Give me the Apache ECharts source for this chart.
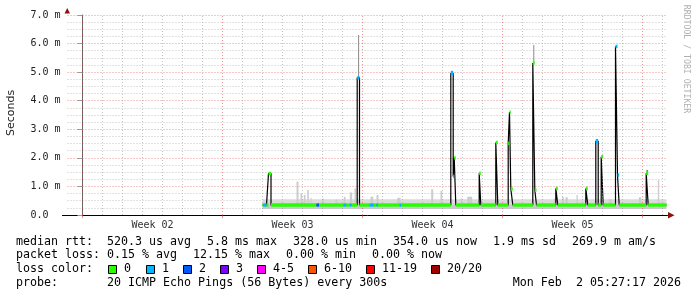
<!DOCTYPE html>
<html><head><meta charset="utf-8">
<script src="https://cdn.jsdelivr.net/npm/echarts@6/dist/echarts.min.js"></script>
<style>html,body{margin:0;padding:0;background:#fff}#c{width:697px;height:297px}</style>
</head><body><div id="c"></div>
<script>
// ---- axis data (x in days since start of Week 02, y in ms) ----
const weekStarts = [0, 7, 14, 21, 28];
const weekLabelPos = [3.5, 10.5, 17.5, 24.5];
const weekLabels = ['Week 02', 'Week 03', 'Week 04', 'Week 05'];
const dayLines = [1,2,3,4,5,6,8,9,10,11,12,13,15,16,17,18,19,20,22,23,24,25,26,27,29];

// ---- median rtt (ms): segment boundaries, value per segment, loss bucket per segment ----
const medTimes = [9.0, 9.05, 9.2, 9.3, 9.425, 11.7, 11.825, 13.065, 13.185, 13.365, 13.45, 13.735, 13.85,
  14.365, 14.565, 14.7, 14.775, 15.865, 15.935, 18.415, 18.535, 18.585, 18.665, 19.835, 19.915, 20.665,
  20.765, 21.285, 21.35, 21.415, 21.515, 22.515, 22.615, 22.7, 23.665, 23.765, 25.165, 25.265, 25.665,
  25.785, 25.935, 26.035, 26.65, 26.75, 26.835, 28.185, 28.285, 29.2];
const medValues = [0.35, 0.35, 0.35, 1.45, 0.35, 0.35, 0.35, 0.35, 0.35, 0.35, 0.35, 4.8, 0.35,
  0.35, 0.35, 0.35, 0.35, 0.35, 0.35, 4.96, 1.35, 2.0, 0.35, 1.46, 0.35, 2.54,
  0.35, 2.5, 3.6, 0.91, 0.35, 5.32, 0.87, 0.35, 0.93, 0.35, 0.93, 0.35, 2.58,
  0.35, 2.04, 0.35, 5.9, 1.4, 0.35, 1.46, 0.35];
const medLoss = [0,1,0,0,0,2,0,1,0,1,0,1,0,1,0,1,0,1,0,1,1,0,
  0,0,0,0,0,0,0,0,0,0,0,0,0,0,0,0,
  1,0,0,0,1,1,0,0,0];

// ---- smoke (ms) ----
const bandStart = [9.0], bandEnd = [29.2], bandLo = [0.21], bandMid = [0.35], bandHi = [0.55];
const smokeT0 = [10.7, 10.9, 11.065, 11.235, 11.4, 11.985, 12.65, 13.065, 13.365, 13.6, 14.4, 14.7, 15.735,
  17.435, 17.9, 18.9, 19.235, 23.565, 23.985, 24.15, 24.7, 26.315, 27.815, 28.765];
const smokeT1 = [10.8, 10.985, 11.15, 11.315, 11.45, 12.065, 12.735, 13.15, 13.485, 13.685, 14.535, 14.8, 15.9,
  17.535, 17.985, 18.985, 19.485, 23.65, 24.065, 24.265, 24.765, 26.485, 27.935, 28.835];
const smokeHi = [1.17, 0.76, 0.7, 0.875, 0.6, 0.58, 0.55, 0.64, 0.79, 0.93, 0.64, 0.7, 0.6,
  0.9, 0.85, 0.58, 0.64, 0.57, 0.64, 0.62, 0.7, 0.55, 0.62, 1.22];
const tallT0 = [13.78, 18.42, 22.54, 25.67, 28.19];
const tallT1 = [13.83, 18.53, 22.59, 25.78, 28.28];
const tallLo = [4.8, 4.96, 5.32, 2.58, 1.46];
const tallHi = [6.3, 5.05, 5.95, 2.66, 1.58];

// ---- legend ----
const lossColors = ['#26ff00', '#00b8ff', '#0059ff', '#7e00ff', '#ff00ff', '#ff5500', '#ff0000', '#a10000'];
const lossLabels = ['0', '1', '2', '3', '4-5', '6-10', '11-19', '20/20'];
const rttStats = ['520.3 us avg', '5.8 ms max', '328.0 us min', '354.0 us now', '1.9 ms sd', '269.9 m am/s'];
const lossStats = ['0.15 % avg', '12.15 % max', '0.00 % min', '0.00 % now'];
const probeText = '20 ICMP Echo Pings (56 Bytes) every 300s';
const dateText = 'Mon Feb  2 05:27:17 2026';

// ---- layout ----
const MONO = '"DejaVu Sans Mono", monospace';
const LF = 11.65;
const rttX = [107, 207, 293, 393, 493, 572];
const lossX = [107, 193, 286, 372];
const boxX = [108, 146, 183, 220, 257, 308, 366, 431];
const rowY = [241.5, 255, 269, 282.8];
const MAJ = 'rgba(220,60,60,0.55)';
const MIN = 'rgba(150,150,150,0.55)';

const segs = medValues.map((v, i) => [medTimes[i], medTimes[i + 1], v, medLoss[i]]);
const blackLine = [];
segs.forEach(s => { blackLine.push([s[0], s[2]]); blackLine.push([s[1], s[2]]); });

const smokeData = [];
bandStart.forEach((t, i) => {
  smokeData.push([t, bandEnd[i], bandMid[i], bandHi[i], 0]);
  smokeData.push([t, bandEnd[i], bandLo[i], bandMid[i], 1]);
});
smokeT0.forEach((t, i) => smokeData.push([t, smokeT1[i], bandMid[0], smokeHi[i], 2]));
tallT0.forEach((t, i) => smokeData.push([t, tallT1[i], tallLo[i], tallHi[i], 3]));
const smokeFill = ['#dadada', '#cdc4d4', '#cccccc', '#8a8a8a'];

const graphic = [];
function txt(x, y, s, extra) {
  graphic.push(Object.assign({ type: 'text', x: x, y: y, silent: true,
    style: Object.assign({ text: s, font: LF + 'px ' + MONO, fill: '#000', verticalAlign: 'middle', align: 'left' }, extra || {}) }));
}
txt(16, rowY[0], 'median rtt:');
rttStats.forEach((s, i) => txt(rttX[i], rowY[0], s));
txt(16, rowY[1], 'packet loss:');
lossStats.forEach((s, i) => txt(lossX[i], rowY[1], s));
txt(16, rowY[2], 'loss color:');
lossLabels.forEach((s, i) => {
  graphic.push({ type: 'rect', silent: true, shape: { x: boxX[i] + 0.5, y: 265.5, width: 8, height: 8 },
    style: { fill: lossColors[i], stroke: '#000', lineWidth: 1 } });
  txt(boxX[i] + 16, rowY[2], s);
});
txt(16, rowY[3], 'probe:');
txt(107, rowY[3], probeText);
txt(681, rowY[3], dateText, { align: 'right' });
// axis title & watermark
graphic.push({ type: 'text', x: 11, y: 113, rotation: Math.PI / 2, silent: true,
  style: { text: 'Seconds', font: '11px "DejaVu Sans", sans-serif', fill: '#222', align: 'center', verticalAlign: 'middle' } });
graphic.push({ type: 'text', x: 686, y: 59, rotation: -Math.PI / 2, silent: true,
  style: { text: 'RRDTOOL / TOBI OETIKER', font: '8.2px ' + MONO, fill: '#b0b0b0', align: 'center', verticalAlign: 'middle' } });
// arrows and left stub of x axis
graphic.push({ type: 'line', silent: true, shape: { x1: 62, y1: 215.5, x2: 68, y2: 215.5 }, style: { stroke: '#000', lineWidth: 1 } });
graphic.push({ type: 'polygon', silent: true, shape: { points: [[64.5, 13.5], [70, 13.5], [67.25, 8]] }, style: { fill: '#8b1010' } });
graphic.push({ type: 'polygon', silent: true, shape: { points: [[668, 212], [668, 218.5], [674.5, 215.25]] }, style: { fill: '#8b1010' } });

const option = {
  animation: false,
  backgroundColor: '#ffffff',
  grid: { left: 67.5, right: 29.5, top: 15, bottom: 82, containLabel: false },
  xAxis: {
    type: 'value', min: -0.75, max: 29.25,
    axisLine: { show: true, lineStyle: { color: '#000', width: 1 } },
    axisTick: { show: true, customValues: weekStarts, length: 3, lineStyle: { color: MAJ } },
    axisLabel: { show: true, customValues: weekLabelPos, margin: 5, fontFamily: 'DejaVu Sans Mono', fontSize: 10, color: '#333',
      formatter: v => { const i = weekLabelPos.findIndex(p => Math.abs(p - v) < 1e-6); return i >= 0 ? weekLabels[i] : ''; } },
    splitLine: { show: false }
  },
  yAxis: {
    type: 'value', min: 0, max: 7, interval: 1,
    axisLine: { show: true, lineStyle: { color: '#666' } },
    axisTick: { show: true, length: 5, lineStyle: { color: '#999' } },
    axisLabel: { margin: 7, fontFamily: 'DejaVu Sans Mono', fontSize: 10, color: '#222',
      formatter: v => v === 0 ? '0.0  ' : v.toFixed(1) + ' m' },
    splitLine: { show: true, lineStyle: { color: MAJ, type: [1, 2], width: 1 } },
    minorTick: { show: false, splitNumber: 4 },
    minorSplitLine: { show: true, lineStyle: { color: MIN, type: [1, 2], width: 1 } }
  },
  graphic: graphic,
  series: [
    { type: 'line', data: [], silent: true, showSymbol: false, z: 1,
      markLine: { silent: true, symbol: ['none', 'none'], animation: false, label: { show: false },
        lineStyle: { color: MIN, type: [1, 2], width: 1 },
        data: dayLines.map(d => ({ xAxis: d })) } },
    { type: 'line', data: [], silent: true, showSymbol: false, z: 1,
      markLine: { silent: true, symbol: ['none', 'none'], animation: false, label: { show: false },
        lineStyle: { color: MAJ, type: [1, 2], width: 1 },
        data: weekStarts.map(d => ({ xAxis: d })) } },
    { type: 'custom', silent: true, clip: true, data: smokeData, z: 2,
      renderItem: (params, api) => {
        const p0 = api.coord([api.value(0), api.value(3)]);
        const p1 = api.coord([api.value(1), api.value(2)]);
        return { type: 'rect', shape: { x: p0[0], y: p0[1], width: Math.max(1, p1[0] - p0[0]), height: p1[1] - p0[1] },
          style: { fill: smokeFill[api.value(4)] } };
      } },
    { type: 'line', data: blackLine, silent: true, showSymbol: false, symbol: 'none', z: 3,
      lineStyle: { color: '#000', width: 1.2 } },
    { type: 'custom', silent: true, clip: true, data: segs, z: 5,
      renderItem: (params, api) => {
        const a = api.coord([api.value(0), api.value(2)]);
        const b = api.coord([api.value(1), api.value(2)]);
        return { type: 'line', shape: { x1: a[0], y1: a[1], x2: b[0], y2: b[1] },
          style: { stroke: lossColors[api.value(3)], lineWidth: 3.4, lineCap: 'butt' } };
      } }
  ]
};
const chart = echarts.init(document.getElementById('c'), null, { renderer: 'canvas' });
chart.setOption(option);
</script></body></html>
